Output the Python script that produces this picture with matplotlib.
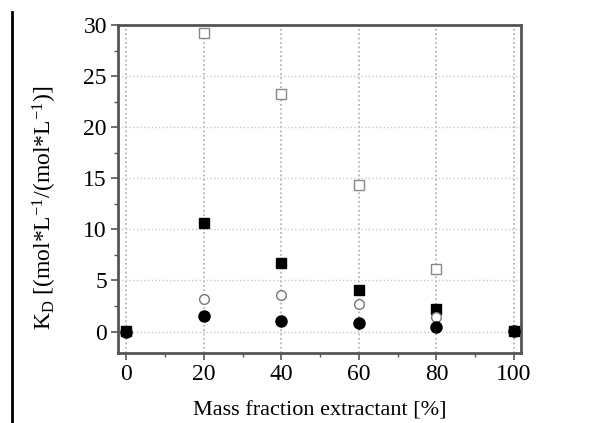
import matplotlib.pyplot as plt
from matplotlib.lines import Line2D
from matplotlib.ticker import MultipleLocator

plt.rcParams['font.family'] = ['Liberation Serif', 'DejaVu Serif']
plt.rcParams['mathtext.fontset'] = 'custom'
plt.rcParams['mathtext.rm'] = 'Liberation Serif'
plt.rcParams['mathtext.it'] = 'Liberation Serif'

# mass fraction extractant [%]
x_all = [0, 20, 40, 60, 80, 100]
x_mid = [20, 40, 60, 80]

# K_D values
open_squares = [29.2, 23.2, 14.3, 6.1]
filled_squares = [0.1, 10.6, 6.7, 4.1, 2.2, 0.1]
open_circles = [3.2, 3.6, 2.7, 1.4]
filled_circles = [0.0, 1.5, 1.0, 0.8, 0.4, 0.1]

fig = plt.figure(figsize=(5.96, 4.23), dpi=100)
ax = fig.add_axes([118 / 596, 70 / 423, 403 / 596, 328 / 423])

ms = 7
ax.plot(x_mid, open_squares, 's', mfc='white', mec='#888888', mew=1.0, ms=ms, zorder=3)
ax.plot(x_all, filled_squares, 's', color='black', ms=ms, zorder=3)
ax.plot(x_mid, open_circles, 'o', mfc='white', mec='#777777', mew=1.0, ms=ms, zorder=3)
ax.plot(x_all, filled_circles, 'o', color='black', ms=ms + 1, zorder=4)

ax.set_xlim(-2.1, 101.8)
ax.set_ylim(-2.1, 30)
ax.xaxis.set_major_locator(MultipleLocator(20))
ax.xaxis.set_minor_locator(MultipleLocator(10))
ax.yaxis.set_major_locator(MultipleLocator(5))
ax.yaxis.set_minor_locator(MultipleLocator(2.5))

ax.xaxis.grid(True, which='major', color='#aaaaaa', linestyle=':', linewidth=1.2)
ax.yaxis.grid(True, which='major', color='#c8c8c8', linestyle=':', linewidth=1.0)
ax.set_axisbelow(True)

for side in ['left', 'bottom', 'top', 'right']:
    ax.spines[side].set_color('#555555')
    ax.spines[side].set_linewidth(2)

ax.tick_params(which='major', direction='out', length=5, width=1.2, color='#555555',
               labelsize=17, pad=3)
ax.tick_params(which='minor', direction='out', length=3, width=1.0, color='#555555')

ax.set_xlabel('Mass fraction extractant [%]', fontsize=16, labelpad=12)
ax.set_ylabel(r'K$_{D}$ [(mol*L$^{-1}$/(mol*L$^{-1}$)]', fontsize=17)
ax.yaxis.set_label_coords(-0.146, 0.442)

# stray border line at the left of the figure
fig.add_artist(Line2D([11.5 / 596, 11.5 / 596], [0, 1 - 12 / 423], color='black', linewidth=2))

fig.savefig('out.png', dpi=100)
